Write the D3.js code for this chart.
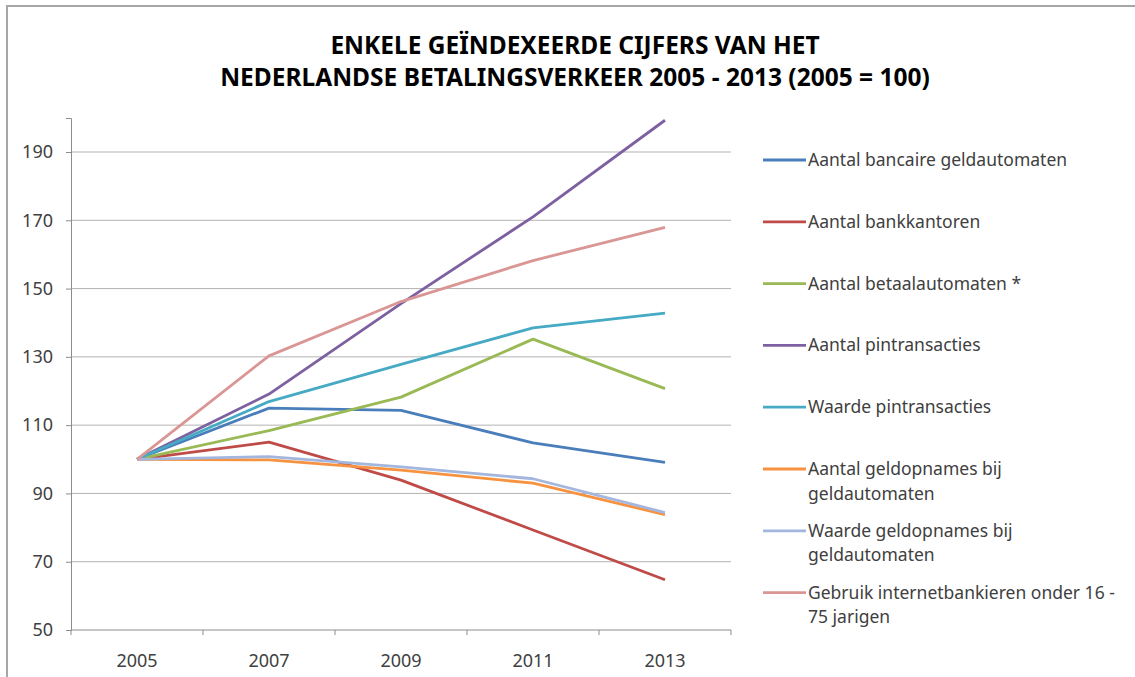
<!DOCTYPE html>
<html>
<head>
<meta charset="utf-8">
<script src="https://cdn.jsdelivr.net/npm/d3@7"></script>
<style>
  body { margin: 0; background: #fff; }
  text { font-family: "Noto Sans", "Open Sans", sans-serif; }
</style>
</head>
<body>
<div id="chart"></div>
<script>
// Data (2005 = 100)
const years = ["2005", "2007", "2009", "2011", "2013"];
const yTicks = [50, 70, 90, 110, 130, 150, 170, 190];

const seriesNames = [
  ["Aantal bancaire geldautomaten"],
  ["Aantal bankkantoren"],
  ["Aantal betaalautomaten *"],
  ["Aantal pintransacties"],
  ["Waarde pintransacties"],
  ["Aantal geldopnames bij", "geldautomaten"],
  ["Waarde geldopnames bij", "geldautomaten"],
  ["Gebruik internetbankieren onder 16 -", "75  jarigen"]
];
const seriesColors = ["#4a7ebb", "#be4b48", "#98b954", "#7d60a0", "#46aac5", "#f69240", "#a3b6de", "#d99694"];

const geldautomaten   = [100, 115.0, 114.3, 104.8, 99.1];
const bankkantoren    = [100, 105.0, 93.9, 79.3, 64.7];
const betaalautomaten = [100, 108.4, 118.2, 135.2, 120.7];
const pintransacties  = [100, 119.1, 145.6, 171.0, 199.3];
const waardePin       = [100, 116.9, 127.8, 138.5, 142.8];
const geldopnames     = [100, 99.8, 96.8, 93.0, 83.8];
const waardeOpnames   = [100, 100.8, 97.8, 94.3, 84.4];
const internet        = [100, 130.3, 146.2, 158.2, 167.9];

// draw order: same as the legend, the later ones on top
const seriesValues = [geldautomaten, bankkantoren, betaalautomaten, pintransacties,
                      waardePin, geldopnames, waardeOpnames, internet];

const W = 1135, H = 677;
const margin = {top: 118, left: 71, right: 404, bottom: 47};
const width = W - margin.left - margin.right;
const height = H - margin.top - margin.bottom;

const svg = d3.select("#chart").append("svg")
    .attr("width", W)
    .attr("height", H);

// chart frame
svg.append("rect")
    .attr("x", 7).attr("y", 6)
    .attr("width", W + 20).attr("height", H + 20)
    .attr("fill", "none")
    .attr("stroke", "#a6a6a6")
    .attr("stroke-width", 2);

// title
const title = svg.append("text")
    .attr("x", 575)
    .attr("text-anchor", "middle")
    .attr("font-weight", "bold")
    .attr("font-size", 24.5)
    .attr("fill", "#000");
title.append("tspan").attr("x", 575).attr("y", 54).text("ENKELE GEÏNDEXEERDE CIJFERS VAN HET");
title.append("tspan").attr("x", 575).attr("y", 86).text("NEDERLANDSE BETALINGSVERKEER 2005 - 2013 (2005 = 100)");

const g = svg.append("g")
    .attr("transform", `translate(${margin.left},${margin.top})`);

const x = d3.scaleBand()
    .domain(years)
    .range([0, width]);

const y = d3.scaleLinear()
    .domain([50, 50 + 140 * height / (630 - 152)])
    .range([height, 0]);

// gridlines
g.append("g")
    .selectAll("line")
    .data(yTicks.slice(1))
    .enter()
    .append("line")
    .attr("x1", 0)
    .attr("x2", width)
    .attr("y1", d => y(d))
    .attr("y2", d => y(d))
    .attr("stroke", "#b3b3b3")
    .attr("stroke-width", 1);

// y axis
const yAxis = g.append("g")
    .call(d3.axisLeft(y).tickValues(yTicks).tickSize(5).tickPadding(13));
yAxis.select(".domain").attr("stroke", "#8c8c8c");
yAxis.selectAll(".tick line").attr("stroke", "#8c8c8c");
yAxis.selectAll(".tick text")
    .attr("font-size", 18)
    .attr("fill", "#404040")
    .style("font-family", "'Noto Sans', sans-serif");

// x axis, ticks on the category boundaries
const xAxis = g.append("g")
    .attr("transform", `translate(0,${height})`);
xAxis.append("line")
    .attr("x1", 0).attr("x2", width)
    .attr("stroke", "#8c8c8c");
xAxis.selectAll(".xtick")
    .data(years.concat(["end"]))
    .enter()
    .append("line")
    .attr("x1", (d, i) => i * x.step())
    .attr("x2", (d, i) => i * x.step())
    .attr("y1", 0).attr("y2", 5)
    .attr("stroke", "#8c8c8c");
xAxis.selectAll(".xlabel")
    .data(years)
    .enter()
    .append("text")
    .attr("x", d => x(d) + x.bandwidth() / 2)
    .attr("y", 37)
    .attr("text-anchor", "middle")
    .attr("font-size", 18)
    .attr("fill", "#404040")
    .text(d => d);

// lines
const line = d3.line()
    .x((d, i) => x(years[i]) + x.bandwidth() / 2)
    .y(d => y(d));

seriesValues.forEach((vals, i) => {
    g.append("path")
        .datum(vals)
        .attr("fill", "none")
        .attr("stroke", seriesColors[i])
        .attr("stroke-width", 2.8)
        .attr("stroke-linejoin", "round")
        .attr("d", line);
});

// legend
const legend = svg.append("g")
    .attr("transform", "translate(763,160)");
const legendStep = 61.8;
seriesNames.forEach((lines, i) => {
    const yy = i * legendStep;
    legend.append("line")
        .attr("x1", 0).attr("x2", 43)
        .attr("y1", yy).attr("y2", yy)
        .attr("stroke", seriesColors[i])
        .attr("stroke-width", 2.8);
    const t = legend.append("text")
        .attr("font-size", 17.5)
        .attr("fill", "#404040");
    lines.forEach((s, j) => {
        t.append("tspan")
            .attr("x", 45)
            .attr("y", yy + 6 + j * 24.5)
            .text(s);
    });
});
</script>
</body>
</html>
